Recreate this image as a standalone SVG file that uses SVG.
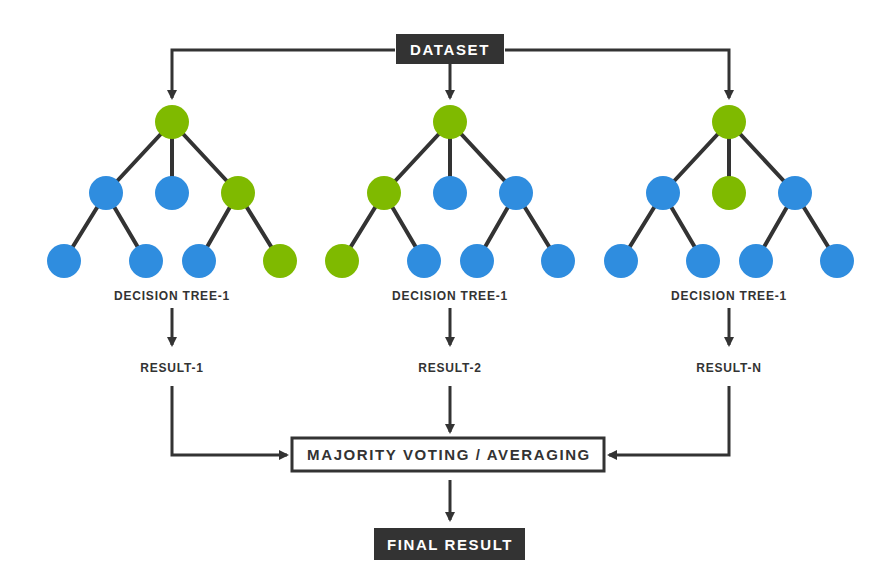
<svg xmlns="http://www.w3.org/2000/svg" width="877" height="588" viewBox="0 0 877 588">
<style>
.e{stroke:#333;stroke-width:4;fill:none}
.c{stroke:#333;stroke-width:3;fill:none}
.g{fill:#7fba00}
.b{fill:#2f8ddf}
.lbl{font-family:"Liberation Sans",Arial,sans-serif;font-weight:bold;font-size:12px;fill:#333;text-anchor:middle;letter-spacing:0.8px}
.bt{font-family:"Liberation Sans",Arial,sans-serif;font-weight:bold;font-size:15px;text-anchor:middle;letter-spacing:1.6px}
</style>
<defs>
<marker id="ah" markerWidth="10" markerHeight="10" refX="8" refY="5" orient="auto" markerUnits="userSpaceOnUse">
<path d="M0,0 L10,5 L0,10 Z" fill="#333"/>
</marker>
</defs>
<rect width="877" height="588" fill="#fff"/>
<g id="connectors">
<path class="c" d="M395,50 H172 V98" marker-end="url(#ah)"/>
<path class="c" d="M505,50 H729 V98" marker-end="url(#ah)"/>
<path class="c" d="M450,64 V98" marker-end="url(#ah)"/>
<path class="c" d="M172,308 V345" marker-end="url(#ah)"/>
<path class="c" d="M450,308 V345" marker-end="url(#ah)"/>
<path class="c" d="M729,308 V345" marker-end="url(#ah)"/>
<path class="c" d="M172,386 V455 H287" marker-end="url(#ah)"/>
<path class="c" d="M450,386 V432" marker-end="url(#ah)"/>
<path class="c" d="M729,386 V455 H609" marker-end="url(#ah)"/>
<path class="c" d="M450,480 V520" marker-end="url(#ah)"/>
</g>
<g id="dataset">
<rect x="396" y="34" width="108" height="30" fill="#333"/>
<text class="bt" x="450" y="54.5" fill="#fff">DATASET</text>
</g>
<g id="tree1">
<path class="e" d="M172,122 L106,193 M172,122 V193 M172,122 L238,193 M106,193 L64,261 M106,193 L146,261 M238,193 L199,261 M238,193 L280,261"/>
<circle class="g" cx="172" cy="122" r="17"/>
<circle class="b" cx="106" cy="193" r="17"/>
<circle class="b" cx="172" cy="193" r="17"/>
<circle class="g" cx="238" cy="193" r="17"/>
<circle class="b" cx="64" cy="261" r="17"/>
<circle class="b" cx="146" cy="261" r="17"/>
<circle class="b" cx="199" cy="261" r="17"/>
<circle class="g" cx="280" cy="261" r="17"/>
<text class="lbl" x="172" y="300">DECISION TREE-1</text>
</g>
<g id="tree2">
<path class="e" d="M450,122 L384,193 M450,122 V193 M450,122 L516,193 M384,193 L342,261 M384,193 L424,261 M516,193 L477,261 M516,193 L558,261"/>
<circle class="g" cx="450" cy="122" r="17"/>
<circle class="g" cx="384" cy="193" r="17"/>
<circle class="b" cx="450" cy="193" r="17"/>
<circle class="b" cx="516" cy="193" r="17"/>
<circle class="g" cx="342" cy="261" r="17"/>
<circle class="b" cx="424" cy="261" r="17"/>
<circle class="b" cx="477" cy="261" r="17"/>
<circle class="b" cx="558" cy="261" r="17"/>
<text class="lbl" x="450" y="300">DECISION TREE-1</text>
</g>
<g id="tree3">
<path class="e" d="M729,122 L663,193 M729,122 V193 M729,122 L795,193 M663,193 L621,261 M663,193 L703,261 M795,193 L756,261 M795,193 L837,261"/>
<circle class="g" cx="729" cy="122" r="17"/>
<circle class="b" cx="663" cy="193" r="17"/>
<circle class="g" cx="729" cy="193" r="17"/>
<circle class="b" cx="795" cy="193" r="17"/>
<circle class="b" cx="621" cy="261" r="17"/>
<circle class="b" cx="703" cy="261" r="17"/>
<circle class="b" cx="756" cy="261" r="17"/>
<circle class="b" cx="837" cy="261" r="17"/>
<text class="lbl" x="729" y="300">DECISION TREE-1</text>
</g>
<g id="result1"><text class="lbl" x="172" y="372">RESULT-1</text></g>
<g id="result2"><text class="lbl" x="450" y="372">RESULT-2</text></g>
<g id="resultN"><text class="lbl" x="729" y="372">RESULT-N</text></g>
<g id="voting">
<rect x="292" y="438" width="312" height="33" fill="#fff" stroke="#333" stroke-width="3"/>
<text class="bt" x="449" y="460" fill="#333">MAJORITY VOTING / AVERAGING</text>
</g>
<g id="final">
<rect x="374" y="528" width="151" height="32" fill="#333"/>
<text class="bt" x="450" y="549.5" fill="#fff">FINAL RESULT</text>
</g>
</svg>
